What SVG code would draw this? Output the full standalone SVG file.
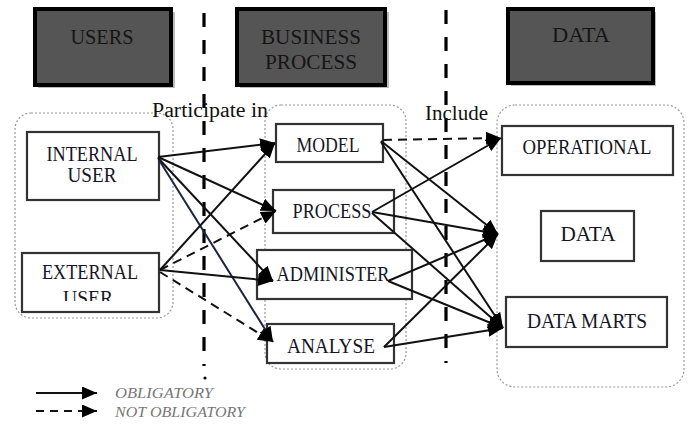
<svg xmlns="http://www.w3.org/2000/svg" width="688" height="424" viewBox="0 0 688 424">
<defs>
<marker id="ah" markerUnits="userSpaceOnUse" markerWidth="15" markerHeight="13" refX="15" refY="6.5" orient="auto">
<path d="M0,0 L15,6.5 L0,13 z" fill="#000"/>
</marker>
<clipPath id="clipExt"><rect x="0" y="0" width="688" height="301"/></clipPath>
<style>
.hdr{fill:#555;stroke:#000;stroke-width:4}
.shd{fill:#bbb;stroke:none}
.htx{font-family:"Liberation Serif","Times New Roman",serif;font-size:22px;fill:#151515;text-anchor:middle}
.grp{fill:none;stroke:#9a9a9a;stroke-width:1.2;stroke-dasharray:2,2}
.box{fill:#fff;stroke:#333;stroke-width:2.2}
.ntx{font-family:"Liberation Serif","Times New Roman",serif;font-size:20px;fill:#151525;text-anchor:middle}
.sep{stroke:#000;stroke-width:3.2;stroke-dasharray:14,13;fill:none}
.c{stroke:#111;stroke-width:2;fill:none;marker-end:url(#ah)}
.d{stroke-dasharray:9,6}
.lbl{font-family:"Liberation Serif","Times New Roman",serif;font-size:20px;fill:#111}
.lg{font-family:"Liberation Serif","Times New Roman",serif;font-style:italic;font-size:15px;fill:#777}
</style>
</defs>
<rect width="688" height="424" fill="#fff"/>

<g id="separators">
<line class="sep" x1="204" y1="13" x2="204" y2="366"/>
<circle cx="205" cy="378" r="1.6" fill="#000"/>
<line class="sep" x1="446" y1="10" x2="446" y2="363"/>
</g>

<g id="header-users">
<rect class="shd" x="38" y="12" width="137" height="76"/>
<rect class="hdr" x="35" y="9" width="136" height="76"/>
<text class="htx" x="102" y="44" textLength="63" lengthAdjust="spacingAndGlyphs">USERS</text>
</g>
<g id="header-business">
<rect class="shd" x="240" y="12" width="149" height="76"/>
<rect class="hdr" x="237" y="9" width="148" height="76"/>
<text class="htx" x="311" y="44" textLength="100" lengthAdjust="spacingAndGlyphs">BUSINESS</text>
<text class="htx" x="311" y="69" textLength="92" lengthAdjust="spacingAndGlyphs">PROCESS</text>
</g>
<g id="header-data">
<rect class="shd" x="511" y="12" width="145" height="74"/>
<rect class="hdr" x="508" y="9" width="145" height="74"/>
<text class="htx" x="581" y="42" textLength="58" lengthAdjust="spacingAndGlyphs">DATA</text>
</g>

<g id="group-users"><rect class="grp" x="15" y="113" width="158" height="205" rx="16"/></g>
<g id="group-business"><rect class="grp" x="265" y="105" width="141" height="264" rx="16"/></g>
<g id="group-data"><rect class="grp" x="497" y="105" width="187" height="282" rx="18"/></g>

<text class="lbl" x="152" y="117" textLength="116" lengthAdjust="spacingAndGlyphs">Participate in</text>
<text class="lbl" x="425" y="120" textLength="63" lengthAdjust="spacingAndGlyphs" fill="#444">Include</text>

<g id="internal-user">
<rect class="box" x="27" y="132" width="132" height="68"/>
<text class="ntx" x="92" y="161" textLength="91" lengthAdjust="spacingAndGlyphs">INTERNAL</text>
<text class="ntx" x="92" y="182" textLength="49" lengthAdjust="spacingAndGlyphs">USER</text>
</g>
<g id="external-user">
<rect class="box" x="22" y="253" width="137" height="59"/>
<text class="ntx" x="90" y="279" textLength="96" lengthAdjust="spacingAndGlyphs">EXTERNAL</text>
<text class="ntx" x="88" y="305" textLength="50" lengthAdjust="spacingAndGlyphs" clip-path="url(#clipExt)">USER</text>
</g>

<g id="model">
<rect class="box" x="276" y="124" width="107" height="38"/>
<text class="ntx" x="328" y="152" textLength="63" lengthAdjust="spacingAndGlyphs">MODEL</text>
</g>
<g id="process">
<rect class="box" x="273" y="190" width="121" height="43"/>
<text class="ntx" x="332" y="218" textLength="79" lengthAdjust="spacingAndGlyphs">PROCESS</text>
</g>
<g id="administer">
<rect class="box" x="257" y="250" width="155" height="49"/>
<text class="ntx" x="333" y="281" textLength="113" lengthAdjust="spacingAndGlyphs">ADMINISTER</text>
</g>
<g id="analyse">
<rect class="box" x="267" y="324" width="127" height="39"/>
<text class="ntx" x="331" y="353" textLength="88" lengthAdjust="spacingAndGlyphs">ANALYSE</text>
</g>

<g id="operational">
<rect class="box" x="502" y="126" width="171" height="49"/>
<text class="ntx" x="587" y="154" textLength="129" lengthAdjust="spacingAndGlyphs">OPERATIONAL</text>
</g>
<g id="data">
<rect class="box" x="541" y="211" width="93" height="50"/>
<text class="ntx" x="588" y="241" textLength="55" lengthAdjust="spacingAndGlyphs">DATA</text>
</g>
<g id="data-marts">
<rect class="box" x="506" y="297" width="161" height="50"/>
<text class="ntx" x="587" y="328" textLength="120" lengthAdjust="spacingAndGlyphs">DATA MARTS</text>
</g>

<g id="connectors">
<line class="c" x1="158" y1="157" x2="275" y2="143"/>
<line class="c" x1="158" y1="157" x2="276" y2="211"/>
<line class="c" x1="158" y1="158" x2="273" y2="281"/>
<line class="c" x1="159" y1="160" x2="273" y2="342" style="stroke:#1c2540"/>
<line class="c" x1="160" y1="270" x2="275" y2="143"/>
<line class="c d" x1="160" y1="270" x2="276" y2="211"/>
<line class="c" x1="160" y1="270" x2="273" y2="281"/>
<line class="c d" x1="160" y1="272" x2="273" y2="342"/>

<line class="c d" x1="383" y1="140" x2="501" y2="138"/>
<line class="c" x1="381" y1="141" x2="498" y2="234"/>
<line class="c" x1="381" y1="142" x2="503" y2="328"/>
<line class="c" x1="372" y1="212" x2="501" y2="138"/>
<line class="c" x1="372" y1="212" x2="498" y2="234"/>
<line class="c" x1="372" y1="213" x2="503" y2="328"/>
<line class="c" x1="388" y1="281" x2="498" y2="234"/>
<line class="c" x1="388" y1="281" x2="503" y2="328"/>
<line class="c" x1="384" y1="347" x2="498" y2="234"/>
<line class="c" x1="384" y1="347" x2="503" y2="328"/>
</g>

<g id="legend">
<line class="c" x1="36" y1="393" x2="97" y2="393"/>
<line class="c d" x1="36" y1="411" x2="97" y2="411" style="stroke-dasharray:8,6"/>
<text class="lg" x="115" y="398" textLength="98" lengthAdjust="spacingAndGlyphs">OBLIGATORY</text>
<text class="lg" x="115" y="417" textLength="130" lengthAdjust="spacingAndGlyphs">NOT OBLIGATORY</text>
</g>
</svg>
